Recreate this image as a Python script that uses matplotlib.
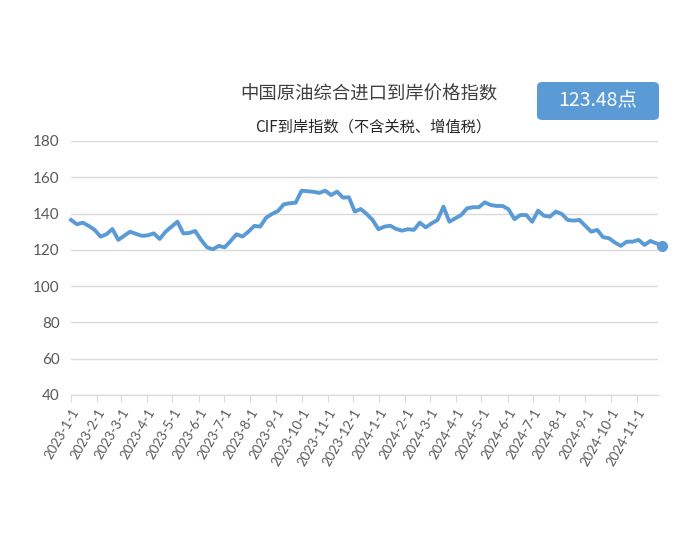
import matplotlib
matplotlib.use("Agg")
import matplotlib.pyplot as plt
import matplotlib.dates as mdates
from matplotlib.patches import FancyBboxPatch
import pandas as pd

plt.rcParams['font.family'] = ['Noto Sans CJK SC', 'DejaVu Sans']

# weekly CIF index values, 2023-01-01 onwards
index_values = [
    136.5, 134.1, 135.0, 133.2, 131.0, 127.3, 128.6, 131.5, 125.5, 127.8,
    130.0, 128.8, 127.7, 128.0, 129.1, 126.0, 130.0, 132.8, 135.5, 129.1,
    129.3, 130.4, 125.5, 121.4, 120.3, 122.2, 121.4, 124.9, 128.6, 127.3,
    130.0, 133.2, 132.8, 137.7, 139.8, 141.4, 145.1, 145.7, 146.0, 152.6,
    152.3, 152.0, 151.4, 152.6, 150.2, 152.1, 148.8, 149.0, 141.1, 142.5,
    139.8, 136.5, 131.4, 132.8, 133.3, 131.5, 130.6, 131.4, 131.0, 135.0,
    132.4, 134.6, 136.5, 143.8, 135.5, 137.4, 139.2, 142.9, 143.5, 143.5,
    146.2, 144.7, 144.2, 144.2, 142.4, 136.9, 139.2, 139.2, 135.5, 141.6,
    138.8, 138.3, 141.1, 139.8, 136.5, 136.1, 136.5, 133.2, 130.0, 131.0,
    127.0, 126.4, 124.0, 122.2, 124.5, 124.5, 125.5, 122.7, 124.9, 123.6,
    122.3,
]
start_date = "2023-01-01"
title = "中国原油综合进口到岸价格指数"
subtitle = "CIF到岸指数（不含关税、增值税）"
badge_text = "123.48点"
y_ticks = [40, 60, 80, 100, 120, 140, 160, 180]

dates = pd.date_range(start_date, periods=len(index_values), freq="7D")

line_color = "#5b9bd5"
text_gray = "#595959"

fig = plt.figure(figsize=(7, 5.5), dpi=100)
ax = fig.add_axes([71 / 700, 155 / 550, 587 / 700, 254 / 550])

ax.plot(dates, index_values, color=line_color, lw=2.8, solid_joinstyle="round",
        clip_on=False, zorder=3)
ax.plot(dates[-1:], index_values[-1:], "o", color=line_color, ms=7,
        clip_on=False, zorder=4)

ax.set_ylim(40, 180)
ax.set_yticks(y_ticks)
ax.set_xlim(pd.Timestamp(start_date), pd.Timestamp(start_date) + pd.Timedelta(days=695))

ax.xaxis.set_major_locator(mdates.MonthLocator())
ax.xaxis.set_major_formatter(
    plt.FuncFormatter(lambda v, p: "{0.year}-{0.month}-{0.day}".format(mdates.num2date(v))))
ticks = [t for t in ax.get_xticks() if mdates.num2date(t).year < 2025]
ax.set_xticks(ticks)

ax.grid(axis="y", color="#d9d9d9", lw=1)
ax.set_axisbelow(True)
for s in ["top", "right", "left"]:
    ax.spines[s].set_visible(False)
ax.spines["bottom"].set_color("#d9d9d9")
ax.tick_params(axis="y", length=0, labelsize=11, labelcolor=text_gray, pad=8)
ax.tick_params(axis="x", length=5, color="#d9d9d9", labelsize=9.5, labelcolor=text_gray)
for lab in ax.get_yticklabels():
    lab.set_family(["Lato", "DejaVu Sans"])
for lab in ax.get_xticklabels():
    lab.set_family(["Lato", "DejaVu Sans"])
    lab.set_rotation(60)
    lab.set_ha("right")
    lab.set_va("top")
    lab.set_rotation_mode("anchor")

fig.text(369 / 700, 1 - 95 / 550, title, ha="center", va="center",
         fontsize=13.2, fontweight="light", color="#404040")
fig.text(373 / 700, 1 - 127 / 550, subtitle, ha="center", va="center",
         fontsize=11, fontweight="light", color="#262626")

badge = FancyBboxPatch((537 / 700, 1 - 120 / 550), 122 / 700, 38 / 550,
                       boxstyle="round,pad=0,rounding_size=0.008",
                       transform=fig.transFigure, facecolor=line_color,
                       edgecolor="none")
fig.patches.append(badge)
fig.text(598 / 700, 1 - 101 / 550, badge_text, ha="center", va="center",
         fontsize=14, color="white")

fig.savefig("out.png", dpi=100)
